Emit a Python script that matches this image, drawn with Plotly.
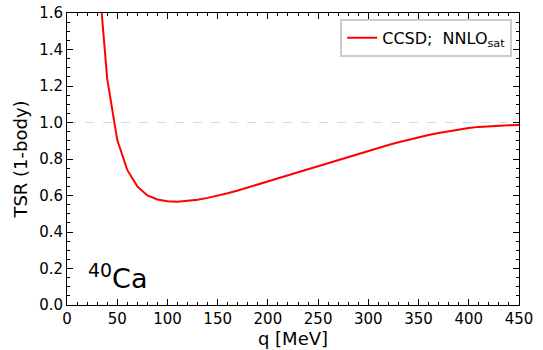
import plotly.graph_objects as go

q = [30, 40, 50, 60, 70, 80, 90, 100, 110, 120, 130, 140, 150, 160, 170, 180, 190,
     200, 210, 220, 230, 240, 250, 260, 270, 280, 290, 300, 310, 320, 330, 340,
     350, 360, 370, 380, 390, 400, 410, 420, 430, 440, 450]
tsr = [1.90, 1.24, 0.905, 0.74, 0.65, 0.60, 0.578, 0.568, 0.566, 0.570, 0.577, 0.587,
       0.598, 0.612, 0.627, 0.643, 0.659, 0.676, 0.693, 0.710, 0.727, 0.744, 0.761,
       0.778, 0.795, 0.812, 0.829, 0.846, 0.862, 0.877, 0.892, 0.906, 0.920, 0.932,
       0.943, 0.953, 0.962, 0.970, 0.976, 0.980, 0.983, 0.985, 0.986]
x_ticks = [0, 50, 100, 150, 200, 250, 300, 350, 400, 450]
y_ticks = [0.0, 0.2, 0.4, 0.6, 0.8, 1.0, 1.2, 1.4, 1.6]
ref_level = 1.0

FONT = "DejaVu Sans"

fig = go.Figure()
fig.add_trace(go.Scatter(x=[0, 450], y=[ref_level, ref_level], mode="lines",
                         line=dict(color="#d9d9d9", width=1.2, dash="dash"),
                         showlegend=False, hoverinfo="skip"))
fig.add_trace(go.Scatter(x=q, y=tsr, mode="lines", name="CCSD;  NNLO<sub>sat</sub>",
                         line=dict(color="#ff0000", width=2)))

axis_common = dict(showgrid=False, zeroline=False, showline=True, linecolor="black",
                   linewidth=1, mirror="allticks", ticks="inside", ticklen=6,
                   tickwidth=1, tickcolor="black", automargin=False,
                   tickfont=dict(family=FONT, size=15, color="black"))

fig.update_xaxes(range=[0, 450], tickvals=x_ticks,
                 minor=dict(dtick=10, ticks="inside", ticklen=3, tickcolor="black"),
                 title=dict(text="q [MeV]", font=dict(family=FONT, size=18, color="black"),
                            standoff=4),
                 **axis_common)
fig.update_yaxes(range=[0, 1.6], tickvals=y_ticks, tickformat=".1f",
                 minor=dict(dtick=0.05, ticks="inside", ticklen=3, tickcolor="black"),
                 title=dict(text="TSR (1-body)", font=dict(family=FONT, size=18, color="black"),
                            standoff=6),
                 **axis_common)

fig.add_annotation(x=0.043, y=0.03, xref="paper", yref="paper", xanchor="left",
                   yanchor="bottom", text="<sup>40</sup>Ca", showarrow=False,
                   font=dict(family=FONT, size=27, color="black"))

fig.update_layout(
    width=543, height=350,
    margin=dict(l=67, r=24, t=13, b=45),
    plot_bgcolor="white", paper_bgcolor="white",
    font=dict(family=FONT, color="black"),
    legend=dict(x=0.985, y=0.98, xanchor="right", yanchor="top",
                bordercolor="#cccccc", borderwidth=2, bgcolor="white",
                font=dict(family=FONT, size=16, color="black")),
)

fig.write_html("out.html")
